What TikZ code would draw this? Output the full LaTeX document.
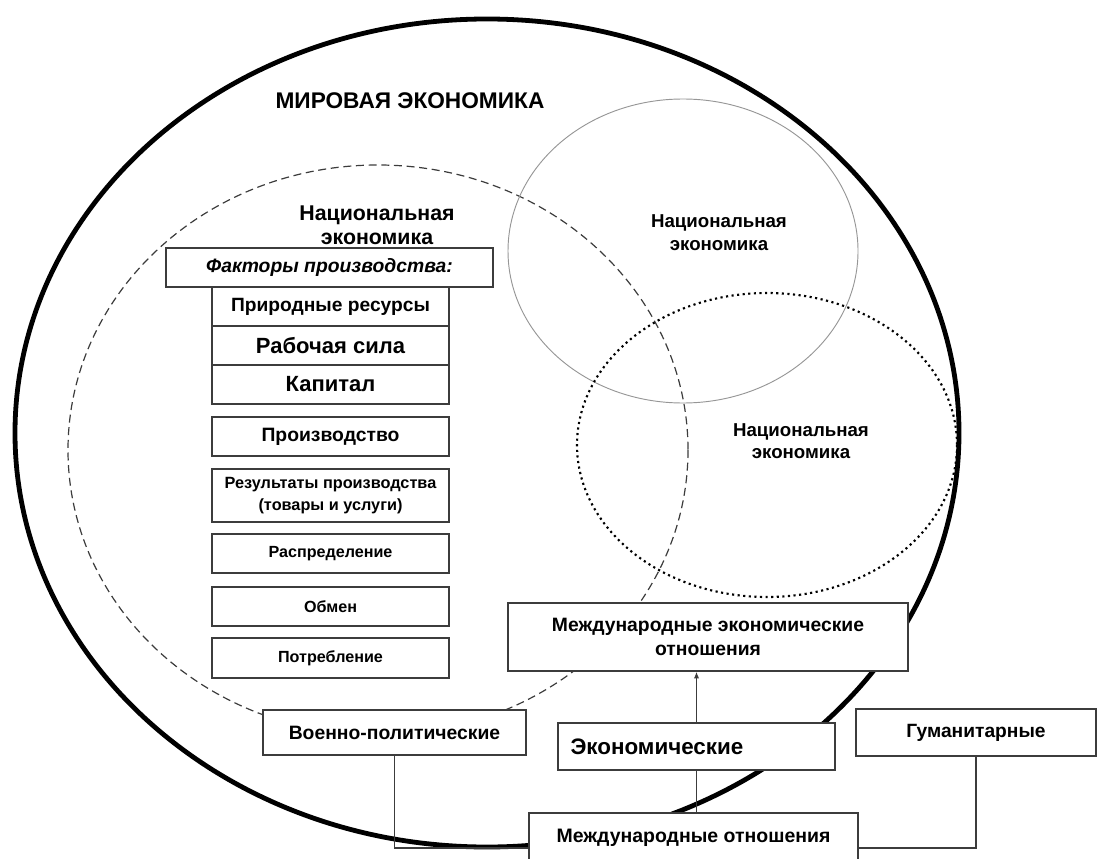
\documentclass[tikz,border=0pt]{standalone}
\usepackage{fontspec}
\setmainfont{Liberation Sans}
\usepackage{tikz}
\usetikzlibrary{arrows.meta,positioning}
\definecolor{bwdark}{RGB}{60,60,60}
\definecolor{bwgray}{RGB}{150,150,150}
\newcommand{\fsz}[2]{\fontsize{#1}{#2}\selectfont}

\begin{document}
\begin{tikzpicture}[x=0.75pt,y=-0.75pt,
  box/.style={draw=bwdark,line width=1.1pt,fill=white,inner sep=0pt,align=center},
  cell/.style={box,minimum width=177.75pt,minimum height=29.25pt},
  rel/.style={box,minimum height=35.25pt},
  lbl/.style={align=center,inner sep=0pt},
  conn/.style={draw=bwdark,line width=0.9pt},
]
  \useasboundingbox (0,0) rectangle (1098,859);
  \clip (0,0) rectangle (1098,859);
  % economies
  \draw[line width=3.6pt] (487,433) ellipse [x radius=472, y radius=414];
  \draw[bwdark,line width=0.9pt,dash pattern=on 6pt off 3.5pt] (378,450) ellipse [x radius=310, y radius=285];
  \draw[bwgray,line width=0.7pt] (683,251) ellipse [x radius=175, y radius=152];
  \draw[line width=1.6pt,dash pattern=on 1.6pt off 2.6pt] (767,445) ellipse [x radius=190, y radius=152];

  \node[lbl,font=\bfseries\fsz{17}{20}] (world) at (410,101) {МИРОВАЯ ЭКОНОМИКА};
  \node[lbl,font=\bfseries\fsz{16}{18}] (nat1) at (377,225) {Национальная\\экономика};
  \node[lbl,font=\bfseries\fsz{14}{17}] (nat2) at (719,233) {Национальная\\экономика};
  \node[lbl,font=\bfseries\fsz{14}{17}] (nat3) at (801,441) {Национальная\\экономика};

  % factors and stages
  \node[box,minimum width=245.25pt,minimum height=29.25pt,font=\bfseries\itshape\fsz{14.5}{16}] (fact) at (329.5,267.5) {Факторы производства:};
  \node[cell,font=\bfseries\fsz{14.4}{16}] (res1) at (330.5,306.5) {Природные ресурсы};
  \node[cell,font=\bfseries\fsz{16.5}{18}] (res2) at (330.5,345.5) {Рабочая сила};
  \node[cell,font=\bfseries\fsz{16.5}{18}] (res3) at (330.5,384.5) {Капитал};
  \node[cell,font=\bfseries\fsz{14.5}{16}] (prod) at (330.5,436.5) {Производство};
  \node[cell,minimum height=39.75pt,font=\bfseries\fsz{12.2}{16}] (rslt) at (330.5,495.5) {Результаты производства\\(товары и услуги)};
  \node[cell,font=\bfseries\fsz{12.1}{16}] (dist) at (330.5,553.5) {Распределение};
  \node[cell,font=\bfseries\fsz{12.1}{16}] (exch) at (330.5,606.5) {Обмен};
  \node[cell,minimum height=30pt,font=\bfseries\fsz{12.1}{16}] (cons) at (330.5,658) {Потребление};

  % relations
  \node[box,minimum width=300pt,minimum height=51pt,font=\bfseries\fsz{14.5}{18}] (meo) at (708,637) {Международные экономические\\отношения};
  \node[rel,minimum width=197.25pt,minimum height=33.75pt,font=\bfseries\fsz{14.5}{16}] (mil) at (394.5,732.5) {Военно-политические};
  \node[rel,minimum width=207.75pt,text width=189pt,inner xsep=9pt,align=left,font=\bfseries\fsz{16.8}{19}] (econ) at (696.5,746.5) {Экономические};
  \node[rel,minimum width=180pt,font=\bfseries\fsz{14.4}{16}] (hum) at (976,732.5) {Гуманитарные};
  \node[rel,minimum width=246.75pt,minimum height=37.5pt,font=\bfseries\fsz{14.6}{16}] (mo) at (693.5,838) {Международные отношения};

  \draw[conn,-{Latex[length=5pt,width=4pt]}] (econ.north) -- (econ.north |- meo.south);
  \draw[conn] (mo.north -| econ.south) -- (econ.south);
  \draw[conn] (mil.south) |- ([yshift=-7.5pt]mo.west);
  \draw[conn] (hum.south) |- ([yshift=-7.5pt]mo.east);
\end{tikzpicture}
\end{document}
